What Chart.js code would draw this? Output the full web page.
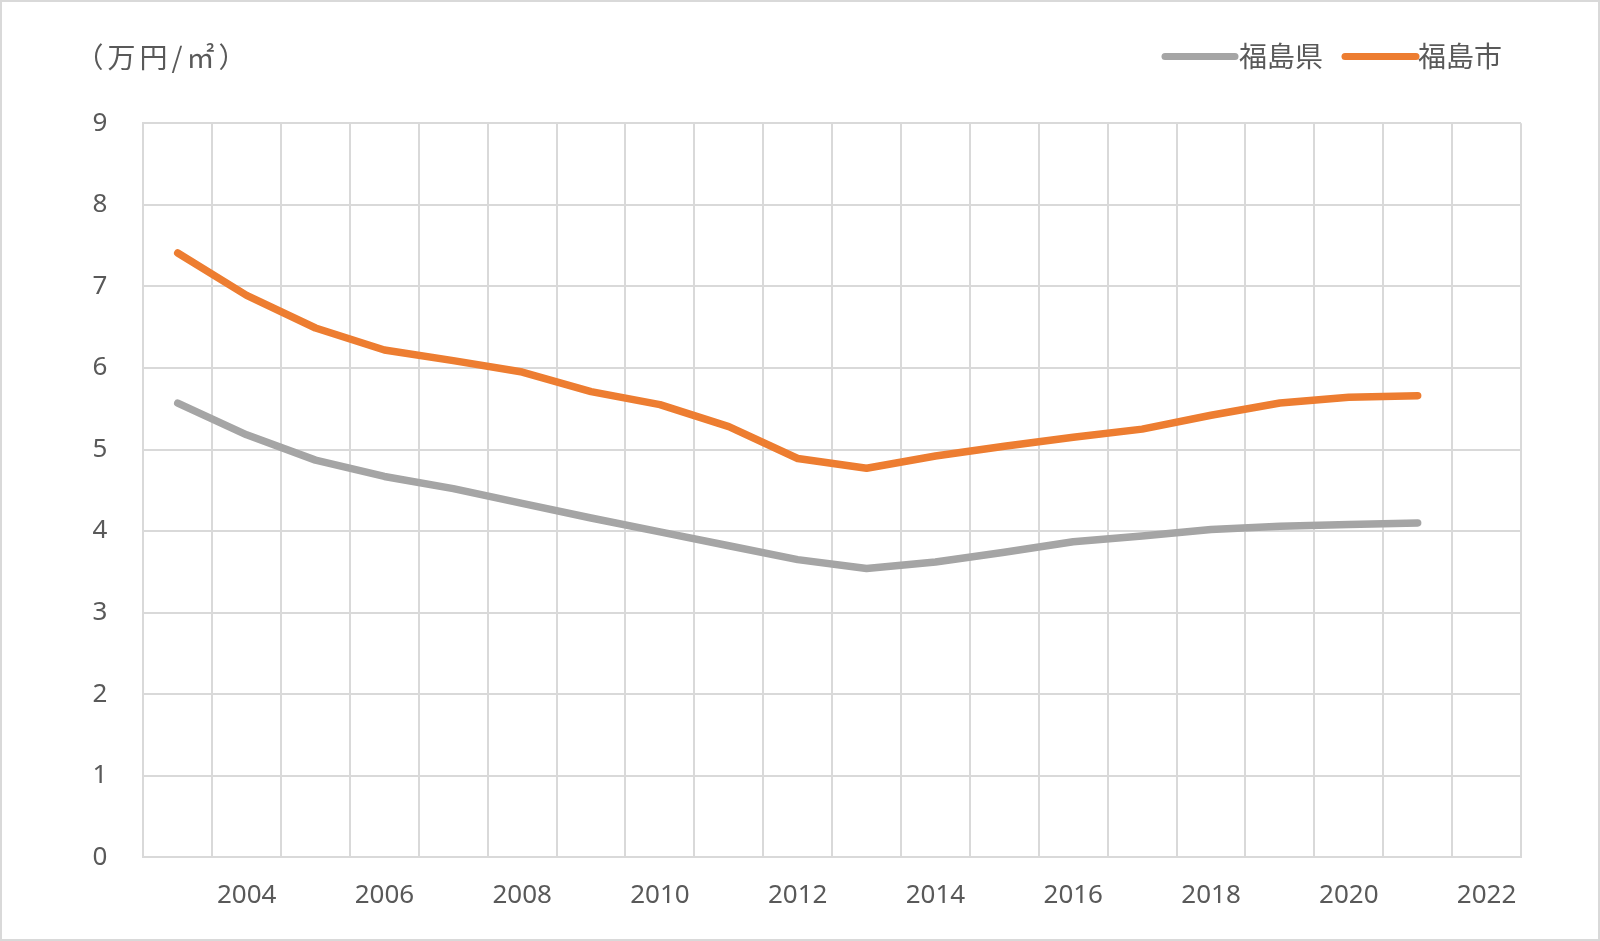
<!DOCTYPE html>
<html>
<head>
<meta charset="utf-8">
<script src="https://cdn.jsdelivr.net/npm/chart.js@4"></script>
<style>
html,body{margin:0;padding:0;background:#fff;}
#wrap{width:1600px;height:941px;position:relative;}
</style>
</head>
<body>
<div id="wrap"><canvas id="c" width="1600" height="941"></canvas></div>
<script>
const years = ['2003','2004','2005','2006','2007','2008','2009','2010','2011','2012','2013','2014','2015','2016','2017','2018','2019','2020','2021','2022'];
const prefLabel = '福島県';
const cityLabel = '福島市';
const prefValues = [5.57, 5.18, 4.87, 4.67, 4.52, 4.34, 4.16, 3.99, 3.82, 3.65, 3.54, 3.62, 3.74, 3.87, 3.94, 4.02, 4.06, 4.08, 4.10];
const cityValues = [7.41, 6.89, 6.49, 6.22, 6.09, 5.95, 5.71, 5.55, 5.28, 4.89, 4.77, 4.92, 5.04, 5.15, 5.25, 5.42, 5.57, 5.64, 5.66];
const unitTitle = '（万円/㎡）';
const yTicks = [0,1,2,3,4,5,6,7,8,9];

const TEXT = '#595959';
const GRID = '#d9d9d9';
const JP = '"Noto Sans CJK JP", "Noto Sans", sans-serif';
const NUM = '"Noto Sans", "Open Sans", sans-serif';

const decor = {
  id: 'decor',
  afterDraw(chart) {
    const ctx = chart.ctx;
    ctx.save();
    // outer border
    ctx.strokeStyle = GRID;
    ctx.lineWidth = 2;
    ctx.strokeRect(1, 1, chart.width - 2, chart.height - 2);
    // unit title
    ctx.fillStyle = TEXT;
    ctx.font = '28px ' + JP;
    ctx.textAlign = 'center';
    ctx.textBaseline = 'middle';
    try { ctx.letterSpacing = '4px'; } catch (e) {}
    ctx.fillText(unitTitle, 163, 57);
    try { ctx.letterSpacing = '0px'; } catch (e) {}
    // legend
    const items = [
      {ds: chart.data.datasets[0], x0: 1165, x1: 1235, tx: 1239},
      {ds: chart.data.datasets[1], x0: 1345, x1: 1416, tx: 1418}
    ];
    ctx.font = '28px ' + JP;
    ctx.textAlign = 'left';
    items.forEach(it => {
      ctx.strokeStyle = it.ds.borderColor;
      ctx.lineWidth = 7;
      ctx.lineCap = 'round';
      ctx.beginPath();
      ctx.moveTo(it.x0, 56.5);
      ctx.lineTo(it.x1, 56.5);
      ctx.stroke();
      ctx.fillStyle = TEXT;
      ctx.fillText(it.ds.label, it.tx, 56);
    });
    ctx.restore();
  }
};

new Chart(document.getElementById('c'), {
  type: 'line',
  data: {
    labels: years,
    datasets: [
      {label: prefLabel, data: prefValues, borderColor: '#A5A5A5', backgroundColor: '#A5A5A5',
       borderWidth: 7.5, pointRadius: 0, tension: 0, borderCapStyle: 'round', borderJoinStyle: 'round', fill: false},
      {label: cityLabel, data: cityValues, borderColor: '#ED7D31', backgroundColor: '#ED7D31',
       borderWidth: 7.5, pointRadius: 0, tension: 0, borderCapStyle: 'round', borderJoinStyle: 'round', fill: false}
    ]
  },
  options: {
    responsive: false,
    animation: false,
    devicePixelRatio: 1,
    layout: {padding: {left: 0, right: 79, top: 123.3, bottom: 0}},
    plugins: {legend: {display: false}, title: {display: false}, tooltip: {enabled: false}},
    scales: {
      x: {
        type: 'category',
        offset: true,
        grid: {offset: true, color: GRID, lineWidth: 2, drawTicks: false},
        border: {display: true, color: GRID, width: 2},
        ticks: {
          autoSkip: false, maxRotation: 0, minRotation: 0, padding: 23,
          color: TEXT, font: {family: NUM, size: 26},
          callback(v, i) { const y = years[i]; return (parseInt(y) % 2 === 0) ? y : ''; }
        },
        afterFit(s) { s.height = 83.7; }
      },
      y: {
        min: 0, max: 9,
        afterBuildTicks(s) { s.ticks = yTicks.map(v => ({value: v})); },
        grid: {color: GRID, lineWidth: 2, drawTicks: false},
        border: {display: true, color: GRID, width: 2},
        ticks: {padding: 36, color: TEXT, font: {family: NUM, size: 26}},
        afterFit(s) { s.width = 143.3; }
      }
    }
  },
  plugins: [decor]
});
</script>
</body>
</html>
